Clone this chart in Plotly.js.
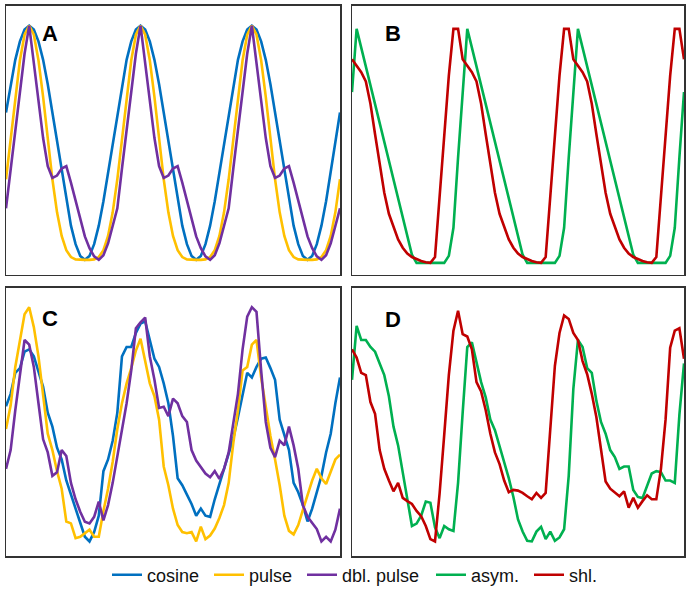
<!DOCTYPE html>
<html><head><meta charset="utf-8">
<script src="https://cdn.plot.ly/plotly-3.0.1.min.js"></script>
<style>html,body{margin:0;padding:0;background:#fff}#chart{width:691px;height:594px}</style>
</head><body><div id="chart"></div>
<script>
// time axis (hours)
var hours = [0,1,2,3,4,5,6,7,8,9,10,11,12,13,14,15,16,17,18,19,20,21,22,23,24,25,26,27,28,29,30,31,32,33,34,35,36,37,38,39,40,41,42,43,44,45,46,47,48,49,50,51,52,53,54,55,56,57,58,59,60,61,62,63,64,65,66,67,68,69,70,71,72];

// Panel A (ideal waveforms)
var cosineA = [0.629,0.75,0.854,0.933,0.983,1,0.983,0.933,0.854,0.75,0.629,0.5,0.371,0.25,0.146,0.067,0.017,0,0.017,0.067,0.146,0.25,0.371,0.5,
 0.629,0.75,0.854,0.933,0.983,1,0.983,0.933,0.854,0.75,0.629,0.5,0.371,0.25,0.146,0.067,0.017,0,0.017,0.067,0.146,0.25,0.371,0.5,
 0.629,0.75,0.854,0.933,0.983,1,0.983,0.933,0.854,0.75,0.629,0.5,0.371,0.25,0.146,0.067,0.017,0,0.017,0.067,0.146,0.25,0.371,0.5,0.629];
var pulseA = [0.344,0.516,0.696,0.852,0.961,1,0.961,0.852,0.696,0.516,0.344,0.203,0.102,0.041,0.012,0.002,0,0,0,0.002,0.012,0.041,0.102,0.203,
 0.344,0.516,0.696,0.852,0.961,1,0.961,0.852,0.696,0.516,0.344,0.203,0.102,0.041,0.012,0.002,0,0,0,0.002,0.012,0.041,0.102,0.203,
 0.344,0.516,0.696,0.852,0.961,1,0.961,0.852,0.696,0.516,0.344,0.203,0.102,0.041,0.012,0.002,0,0,0,0.002,0.012,0.041,0.102,0.203,0.344];
var dblPulseA = [0.22,0.39,0.56,0.72,0.88,1,0.85,0.68,0.52,0.40,0.35,0.36,0.39,0.40,0.33,0.25,0.17,0.10,0.05,0.015,0,0.02,0.07,0.14,
 0.22,0.39,0.56,0.72,0.88,1,0.85,0.68,0.52,0.40,0.35,0.36,0.39,0.40,0.33,0.25,0.17,0.10,0.05,0.015,0,0.02,0.07,0.14,
 0.22,0.39,0.56,0.72,0.88,1,0.85,0.68,0.52,0.40,0.35,0.36,0.39,0.40,0.33,0.25,0.17,0.10,0.05,0.015,0,0.02,0.07,0.14,0.22];

// Panel B (ideal waveforms)
var asymB = [0.73,1,0.92,0.84,0.76,0.68,0.59,0.51,0.43,0.35,0.27,0.19,0.11,0.035,0,0,0,0,0,0,0,0.03,0.15,0.45,
 0.73,1,0.92,0.84,0.76,0.68,0.59,0.51,0.43,0.35,0.27,0.19,0.11,0.035,0,0,0,0,0,0,0,0.03,0.15,0.45,
 0.73,1,0.92,0.84,0.76,0.68,0.59,0.51,0.43,0.35,0.27,0.19,0.11,0.035,0,0,0,0,0,0,0,0.03,0.15,0.45,0.73];
var shlB = [0.87,0.845,0.815,0.775,0.68,0.55,0.42,0.30,0.21,0.15,0.10,0.065,0.04,0.025,0.015,0.008,0.003,0,0.025,0.28,0.54,0.80,1,1,
 0.87,0.845,0.815,0.775,0.68,0.55,0.42,0.30,0.21,0.15,0.10,0.065,0.04,0.025,0.015,0.008,0.003,0,0.025,0.28,0.54,0.80,1,1,
 0.87,0.845,0.815,0.775,0.68,0.55,0.42,0.30,0.21,0.15,0.10,0.065,0.04,0.025,0.015,0.008,0.003,0,0.025,0.28,0.54,0.80,1,1,0.87];

// Panel C (noisy waveforms)
var cosineC = [0.577,0.63,0.72,0.74,0.81,0.82,0.79,0.72,0.66,0.55,0.49,0.40,0.35,0.26,0.20,0.13,0.07,0.02,0,0.04,0.11,0.30,0.35,0.43,
 0.55,0.79,0.83,0.83,0.89,0.93,0.94,0.86,0.78,0.745,0.675,0.59,0.45,0.27,0.24,0.20,0.16,0.11,0.14,0.11,0.105,0.18,0.245,0.31,
 0.37,0.44,0.53,0.62,0.72,0.70,0.745,0.78,0.785,0.74,0.69,0.52,0.46,0.39,0.25,0.21,0.155,0.085,0.14,0.21,0.28,0.38,0.46,0.59,0.70];
var pulseC = [0.48,0.58,0.745,0.85,0.97,1,0.915,0.79,0.62,0.46,0.39,0.30,0.225,0.085,0.077,0.014,0.02,0.035,0.05,0.02,0.02,0.13,0.225,0.34,
 0.48,0.59,0.675,0.74,0.815,0.865,0.77,0.675,0.62,0.52,0.32,0.24,0.14,0.07,0.04,0.035,0.04,0,0.063,0.01,0.025,0.055,0.10,0.155,
 0.25,0.42,0.56,0.73,0.745,0.84,0.86,0.70,0.575,0.45,0.35,0.24,0.11,0.045,0.03,0.07,0.135,0.20,0.26,0.31,0.27,0.245,0.30,0.35,0.37];
var dblPulseC = [0.31,0.39,0.56,0.72,0.86,0.84,0.745,0.59,0.436,0.38,0.28,0.295,0.39,0.365,0.25,0.18,0.127,0.084,0.077,0.105,0.17,0.09,0.155,0.25,
 0.365,0.48,0.59,0.73,0.91,0.935,0.956,0.79,0.69,0.57,0.575,0.535,0.61,0.59,0.535,0.51,0.39,0.345,0.316,0.29,0.274,0.30,0.267,0.31,
 0.38,0.50,0.63,0.82,0.96,1,0.98,0.73,0.51,0.40,0.36,0.43,0.41,0.49,0.41,0.31,0.155,0.105,0.077,0.053,0,0.02,0,0.05,0.14];

// Panel D (noisy waveforms)
var asymD = [0.69,0.92,0.86,0.86,0.83,0.81,0.76,0.71,0.62,0.49,0.41,0.30,0.19,0.066,0.076,0.11,0.17,0.165,0.06,0.014,0.066,0.052,0.045,0.25,
 0.55,0.83,0.85,0.76,0.68,0.615,0.52,0.475,0.41,0.34,0.27,0.19,0.094,0.042,0.003,0,0.042,0.062,0.01,0.042,0.003,0.017,0.052,0.28,
 0.65,0.86,0.83,0.74,0.72,0.60,0.51,0.46,0.39,0.36,0.31,0.32,0.32,0.22,0.19,0.185,0.24,0.29,0.30,0.296,0.26,0.26,0.25,0.54,0.76];
var shlD = [0.82,0.785,0.72,0.71,0.595,0.545,0.39,0.31,0.26,0.214,0.25,0.186,0.172,0.16,0.13,0.108,0.066,0.01,0,0.205,0.455,0.71,0.90,0.985,
 0.885,0.875,0.82,0.68,0.64,0.56,0.46,0.38,0.33,0.26,0.21,0.22,0.217,0.207,0.193,0.18,0.207,0.186,0.207,0.48,0.75,0.89,0.965,0.95,
 0.89,0.86,0.77,0.714,0.63,0.53,0.40,0.256,0.225,0.21,0.193,0.214,0.144,0.186,0.144,0.172,0.197,0.18,0.18,0.31,0.52,0.827,0.90,0.91,0.78];

var seriesNames = ['cosine','pulse','dbl. pulse','asym.','shl.'];
var panelLabels = ['A','B','C','D'];

var COL = {cosine:'#0070C0', pulse:'#FFC000', dbl:'#7030A0', asym:'#00B050', shl:'#C00000'};
var LW = 2.6;

function tr(y, name, color, xa, ya, legendId){
  var t = {x:hours, y:y, type:'scatter', mode:'lines', name:name, legendgroup:name, showlegend:!!legendId,
          line:{color:color, width:LW}, xaxis:xa, yaxis:ya, hoverinfo:'skip'};
  if (legendId) t.legend = legendId;
  return t;
}

var data = [
  tr(cosineA, seriesNames[0], COL.cosine, 'x','y', 'legend'),
  tr(pulseA, seriesNames[1], COL.pulse, 'x','y', 'legend2'),
  tr(dblPulseA, seriesNames[2], COL.dbl, 'x','y', 'legend3'),
  tr(asymB, seriesNames[3], COL.asym, 'x2','y2', 'legend4'),
  tr(shlB, seriesNames[4], COL.shl, 'x2','y2', 'legend5'),
  tr(cosineC, seriesNames[0], COL.cosine, 'x3','y3', null),
  tr(pulseC, seriesNames[1], COL.pulse, 'x3','y3', null),
  tr(dblPulseC, seriesNames[2], COL.dbl, 'x3','y3', null),
  tr(asymD, seriesNames[3], COL.asym, 'x4','y4', null),
  tr(shlD, seriesNames[4], COL.shl, 'x4','y4', null)
];

var W = 691, H = 594;
function xd(a,b){ return [a/W, b/W]; }
function yd(top,bot){ return [1-bot/H, 1-top/H]; }
function ax(extra){
  var o = {showline:true, mirror:true, linecolor:'#333333', linewidth:1.5, showgrid:false, zeroline:false,
           showticklabels:false, ticks:'', fixedrange:true};
  for (var k in extra) o[k]=extra[k];
  return o;
}
function leg(px){
  return {orientation:'h', x:px/W, xanchor:'left', y:1-578/H, yanchor:'middle',
          font:{family:'Liberation Sans, Arial, sans-serif', size:18, color:'#111'},
          bgcolor:'rgba(0,0,0,0)', borderwidth:0};
}
var xrng = [0,72];
var layout = {
  width:W, height:H, margin:{l:0,r:0,t:0,b:0}, paper_bgcolor:'#fff', plot_bgcolor:'#fff',
  showlegend:true,
  legend: leg(107), legend2: leg(209), legend3: leg(302), legend4: leg(431), legend5: leg(529),
  xaxis: ax({domain:xd(6,340), range:xrng, anchor:'y'}),
  yaxis: ax({domain:yd(6,276), range:[-0.063,1.084], anchor:'x'}),
  xaxis2: ax({domain:xd(352,684), range:xrng, anchor:'y2'}),
  yaxis2: ax({domain:yd(6,276), range:[-0.05,1.098], anchor:'x2'}),
  xaxis3: ax({domain:xd(6,340), range:xrng, anchor:'y3'}),
  yaxis3: ax({domain:yd(289,559), range:[-0.063,1.084], anchor:'x3'}),
  xaxis4: ax({domain:xd(352,684), range:xrng, anchor:'y4'}),
  yaxis4: ax({domain:yd(289,559), range:[-0.063,1.084], anchor:'x4'}),
  annotations: [
    {text:panelLabels[0], x:50/W, y:1-34/H},
    {text:panelLabels[1], x:393/W, y:1-34/H},
    {text:panelLabels[2], x:50/W, y:1-320/H},
    {text:panelLabels[3], x:393/W, y:1-321/H}
  ].map(function(a){ return {text:a.text, x:a.x, y:a.y, xref:'paper', yref:'paper', xanchor:'center', yanchor:'middle',
        showarrow:false, font:{family:'Liberation Sans, Arial, sans-serif', size:22, color:'#000', weight:'bold'}}; })
};

Plotly.newPlot('chart', data, layout, {staticPlot:true, displayModeBar:false});
</script>
</body></html>
